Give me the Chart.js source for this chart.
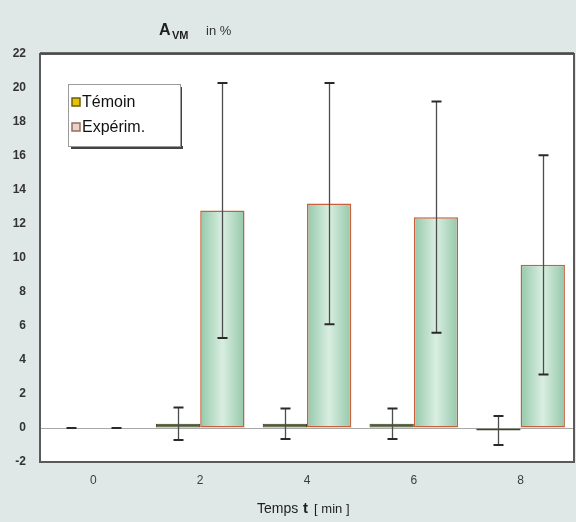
<!DOCTYPE html>
<html>
<head>
<meta charset="utf-8">
<script src="https://cdn.jsdelivr.net/npm/chart.js@4/dist/chart.umd.min.js"></script>
<style>
  html, body { margin: 0; padding: 0; background: #dfe8e6; }
  #wrap { width: 576px; height: 522px; position: relative; }
</style>
</head>
<body>
<div id="wrap"><canvas id="c" width="576" height="522"></canvas></div>
<script>
// Time points (minutes)
const categories = ['0', '2', '4', '6', '8'];
// Control group (Témoin): mean and standard deviation
const temoinValues = [0, 0.25, 0.25, 0.25, -0.15];
const temoinErrors = [0, 0.95, 0.9, 0.9, 0.85];
// Experimental group (Expérim.): mean and standard deviation
const experimValues = [0, 12.8, 13.2, 12.4, 9.6];
const experimErrors = [0, 7.5, 7.1, 6.8, 6.45];
// Y axis range and step
const yMin = -2, yMax = 22, yStep = 2;

const CAT_PCT = 0.83;

// Horizontal shading across each experimental bar
function experimFill(ctx) {
  const chart = ctx.chart;
  const xs = chart.scales && chart.scales.x;
  if (!xs || !chart.chartArea || ctx.dataIndex === undefined) return '#b6dac4';
  const cw = xs.width / categories.length;
  const bw = cw * CAT_PCT / 2;
  const cx = xs.getPixelForValue(ctx.dataIndex) + bw / 2;
  const g = chart.ctx.createLinearGradient(cx - bw / 2, 0, cx + bw / 2, 0);
  g.addColorStop(0, '#94c8aa');
  g.addColorStop(0.5, '#d9eee1');
  g.addColorStop(1, '#94c8aa');
  return g;
}

// Error bars, frame, legend and titles
const decorations = {
  id: 'decorations',
  beforeDraw(chart) {
    const { ctx, chartArea: a } = chart;
    ctx.save();
    ctx.fillStyle = '#ffffff';
    ctx.fillRect(a.left, a.top, a.right - a.left, a.bottom - a.top);
    ctx.restore();
  },
  afterDatasetsDraw(chart) {
    const { ctx } = chart;
    const ys = chart.scales.y;
    const errs = [temoinErrors, experimErrors];
    ctx.save();
    [0, 1].forEach(di => {
      const meta = chart.getDatasetMeta(di);
      const vals = chart.data.datasets[di].data;
      meta.data.forEach((bar, i) => {
        const x = Math.round(bar.x) + 0.5;
        const yTop = ys.getPixelForValue(vals[i] + errs[di][i]);
        const yBot = ys.getPixelForValue(vals[i] - errs[di][i]);
        ctx.strokeStyle = '#4d4d4d';
        ctx.lineWidth = 1.3;
        ctx.beginPath();
        ctx.moveTo(x, yTop); ctx.lineTo(x, yBot);
        ctx.stroke();
        ctx.strokeStyle = '#2a2a2a';
        ctx.lineWidth = 2;
        ctx.beginPath();
        ctx.moveTo(x - 5, yTop); ctx.lineTo(x + 5, yTop);
        ctx.moveTo(x - 5, yBot); ctx.lineTo(x + 5, yBot);
        ctx.stroke();
      });
    });
    ctx.restore();
  },
  afterDraw(chart) {
    const { ctx, chartArea: a } = chart;
    ctx.save();
    // plot frame
    ctx.strokeStyle = '#5a5a5a';
    ctx.lineWidth = 2;
    ctx.strokeRect(a.left, a.top, a.right - a.left, a.bottom - a.top);
    ctx.strokeStyle = '#444';
    ctx.lineWidth = 1.5;
    ctx.beginPath(); ctx.moveTo(a.left, a.top - 1); ctx.lineTo(a.right, a.top - 1); ctx.stroke();

    // legend box
    const lx = 68, ly = 84, lw = 112, lh = 62;
    ctx.fillStyle = '#444';
    ctx.fillRect(lx + 3, ly + lh, lw, 3);
    ctx.fillRect(lx + lw, ly + 3, 2, lh);
    ctx.fillStyle = '#ffffff';
    ctx.fillRect(lx, ly, lw, lh);
    ctx.strokeStyle = '#9a9a9a';
    ctx.lineWidth = 1;
    ctx.strokeRect(lx + 0.5, ly + 0.5, lw, lh);
    const items = [
      { label: 'Témoin', fill: '#e6c300', stroke: '#6e5c12', y: 102 },
      { label: 'Expérim.', fill: '#ead3cc', stroke: '#9b6b5c', y: 127 }
    ];
    ctx.font = '16px "Liberation Sans", Arial, sans-serif';
    ctx.textBaseline = 'middle';
    items.forEach(it => {
      ctx.fillStyle = it.fill;
      ctx.fillRect(72, it.y - 4, 8, 8);
      ctx.strokeStyle = it.stroke;
      ctx.lineWidth = 1.5;
      ctx.strokeRect(72, it.y - 4, 8, 8);
      ctx.fillStyle = '#111';
      ctx.fillText(it.label, 82, it.y + 1);
    });

    // chart title: A_VM in %
    ctx.fillStyle = '#1e1e1e';
    ctx.textBaseline = 'alphabetic';
    ctx.font = 'bold 16px "Liberation Sans", Arial, sans-serif';
    ctx.fillText('A', 159, 35);
    ctx.font = 'bold 11px "Liberation Sans", Arial, sans-serif';
    ctx.fillText('VM', 172, 39);
    ctx.font = '13px "Liberation Sans", Arial, sans-serif';
    ctx.fillStyle = '#333';
    ctx.fillText('in %', 206, 35);

    // x axis title: Temps t [ min ]
    ctx.fillStyle = '#1e1e1e';
    ctx.font = '14px "Liberation Sans", Arial, sans-serif';
    let x = 257;
    ctx.fillText('Temps', x, 513);
    x += ctx.measureText('Temps ').width + 1;
    ctx.font = 'bold 15px "Liberation Sans", Arial, sans-serif';
    ctx.fillText('t', x, 513);
    x += ctx.measureText('t').width + 6;
    ctx.font = '13px "Liberation Sans", Arial, sans-serif';
    ctx.fillText('[ min ]', x, 513);
    ctx.restore();
  }
};

new Chart(document.getElementById('c'), {
  type: 'bar',
  data: {
    labels: categories,
    datasets: [
      {
        label: 'Témoin',
        data: temoinValues,
        backgroundColor: '#4c5a2e',
        borderColor: '#3a4522',
        borderWidth: 1,
        borderSkipped: false,
        categoryPercentage: CAT_PCT,
        barPercentage: 1
      },
      {
        label: 'Expérim.',
        data: experimValues,
        backgroundColor: experimFill,
        borderColor: '#c8603c',
        borderWidth: 1.5,
        borderSkipped: false,
        categoryPercentage: CAT_PCT,
        barPercentage: 1
      }
    ]
  },
  options: {
    responsive: false,
    animation: false,
    layout: { padding: { top: 54, right: 2, left: 0, bottom: 0 } },
    plugins: {
      legend: { display: false },
      title: { display: false },
      tooltip: { enabled: false }
    },
    scales: {
      x: {
        grid: { display: false, drawTicks: false },
        border: { display: false },
        ticks: {
          color: '#3c3c3c',
          font: { size: 12, family: '"Liberation Sans", Arial, sans-serif' },
          padding: 11
        },
        afterFit(s) { s.height = 60; }
      },
      y: {
        min: yMin,
        max: yMax,
        ticks: {
          stepSize: yStep,
          color: '#333',
          font: { size: 12, weight: 'bold', family: '"Liberation Sans", Arial, sans-serif' },
          padding: 14
        },
        grid: {
          drawTicks: false,
          color: c => (c.tick && c.tick.value === 0 ? '#a8a8a8' : 'rgba(0,0,0,0)'),
          lineWidth: 1
        },
        border: { display: false },
        afterFit(s) { s.width = 40; }
      }
    }
  },
  plugins: [decorations]
});
</script>
</body>
</html>
